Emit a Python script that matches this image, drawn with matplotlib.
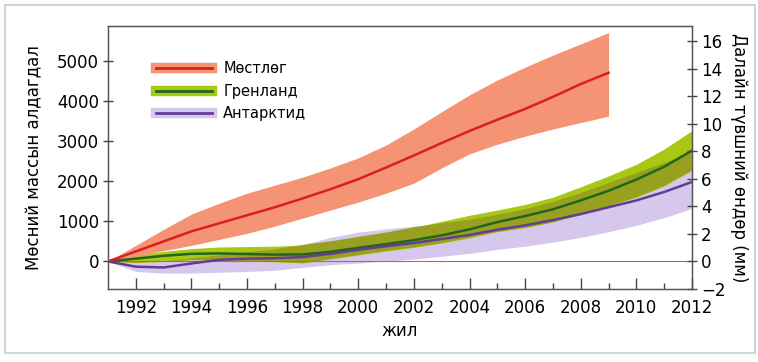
import numpy as np
import matplotlib.pyplot as plt
from matplotlib.lines import Line2D
from matplotlib.patches import Rectangle

plt.rcParams['font.family'] = ['DejaVu Sans']

# glaciers (Gt), 1991-2009
yr_gl = np.arange(1991, 2010)
gl_mid = [0, 250, 500, 750, 950, 1150, 1350, 1570, 1800, 2050, 2340, 2640, 2950, 3250, 3530, 3800, 4100, 4420, 4700]
gl_hi = [0, 400, 800, 1180, 1450, 1700, 1900, 2100, 2330, 2580, 2900, 3300, 3730, 4150, 4520, 4840, 5140, 5420, 5700]
gl_lo = [0, 130, 270, 400, 550, 700, 880, 1080, 1280, 1480, 1700, 1950, 2330, 2680, 2920, 3120, 3300, 3460, 3620]

# Greenland / Antarctica (Gt), 1991-2012
yr = np.arange(1991, 2013)
gr_mid = [0, 70, 140, 190, 200, 185, 170, 175, 240, 340, 430, 530, 650, 800, 980, 1130, 1300, 1520, 1760, 2040, 2360, 2760]
gr_hi = [0, 150, 250, 320, 360, 370, 380, 410, 500, 610, 720, 850, 1000, 1150, 1280, 1420, 1600, 1860, 2130, 2420, 2800, 3260]
gr_lo = [0, -30, 0, 40, 30, 10, -10, -40, 60, 160, 260, 350, 460, 590, 740, 840, 980, 1170, 1380, 1600, 1880, 2270]
an_mid = [0, -130, -150, -50, 40, 70, 80, 110, 190, 290, 380, 460, 560, 660, 790, 900, 1030, 1180, 1350, 1520, 1730, 1980]
an_hi = [0, 0, 0, 80, 150, 230, 300, 420, 600, 730, 810, 880, 950, 1040, 1160, 1300, 1480, 1700, 1950, 2200, 2450, 2700]
an_lo = [0, -250, -290, -290, -270, -250, -220, -150, -80, -40, 10, 60, 130, 200, 300, 380, 480, 600, 740, 900, 1090, 1320]

labels = ['Мөстлөг', 'Гренланд', 'Антарктид']

gr_hi, gr_lo, an_hi, an_lo = map(np.array, (gr_hi, gr_lo, an_hi, an_lo))

fig = plt.figure(figsize=(7.58, 3.62), dpi=100)
ax = fig.add_axes([0.1425, 0.2017, 0.7704, 0.7265])

ax.fill_between(yr, an_lo, an_hi, color='#d6c8ec', lw=0, zorder=1)
ax.fill_between(yr, gr_lo, gr_hi, color='#a8c814', lw=0, zorder=2)
ov_lo = np.maximum(gr_lo, an_lo)
ov_hi = np.minimum(gr_hi, an_hi)
ax.fill_between(yr, ov_lo, ov_hi, where=ov_hi > ov_lo, interpolate=True, color='#98a020', lw=0, zorder=3)
ax.fill_between(yr_gl, gl_lo, gl_hi, color='#f59474', lw=0, zorder=2)

ax.axhline(0, color='#e85050', lw=0.8, zorder=4)
ax.plot(yr, gr_mid, color='#22661a', lw=1.8, zorder=5)
ax.plot(yr, an_mid, color='#643c96', lw=1.8, zorder=5)
ax.plot(yr_gl, gl_mid, color='#dc1e1e', lw=1.8, zorder=5)

ax.set_xlim(1991, 2012)
ax.set_ylim(-686, 5865)
ax.set_xticks(range(1992, 2013, 2))
ax.set_xticks(range(1993, 2012, 2), minor=True)
ax.set_yticks(range(0, 5001, 1000))
ax.tick_params(axis='x', direction='in', length=8, width=1, color='#444', labelsize=12, pad=7)
ax.tick_params(axis='x', which='minor', direction='in', length=4, width=1, color='#444')
ax.tick_params(axis='y', direction='inout', length=7, width=1, color='#444', labelsize=12, pad=3)
for s in ax.spines.values():
    s.set_color('#555')
    s.set_linewidth(1)
ax.set_xlabel('жил', fontsize=12, labelpad=4)
ax.set_ylabel('Мөсний массын алдагдал', fontsize=12, labelpad=10)

ax2 = ax.twinx()
ax2.set_ylim(-2, 17.1)
ax2.set_yticks(range(-2, 17, 2))
ax2.tick_params(axis='y', direction='inout', length=7, width=1, color='#444', labelsize=12, pad=3)
ax2.set_ylabel('Далайн түвшний өндөр (мм)', fontsize=12, rotation=-90, labelpad=16)
for s in ax2.spines.values():
    s.set_color('#555')

handles = [
    (Line2D([], [], color='#f59474', lw=7.5), Line2D([], [], color='#dc1e1e', lw=2)),
    (Line2D([], [], color='#a8c814', lw=7.5), Line2D([], [], color='#22661a', lw=2)),
    (Line2D([], [], color='#d6c8ec', lw=7.5), Line2D([], [], color='#643c96', lw=2)),
]
ax.legend(handles, labels, loc='upper left', bbox_to_anchor=(0.06, 0.915), frameon=False,
          fontsize=10.5, handlelength=3.8, handletextpad=0.8, labelspacing=0.5)

fig.patches.append(Rectangle((5 / 758, 9 / 362), 750 / 758, 348 / 362, transform=fig.transFigure,
                             fill=False, edgecolor='#d4d4d4', lw=1.5))

fig.savefig('out.png', dpi=100)
